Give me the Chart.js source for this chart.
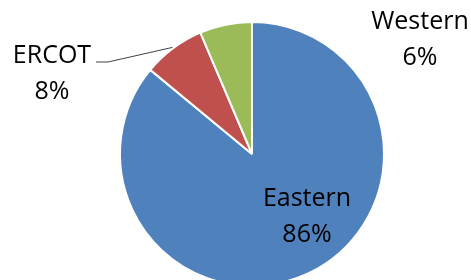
<!DOCTYPE html>
<html>
<head>
<meta charset="utf-8">
<script src="https://cdn.jsdelivr.net/npm/chart.js@4"></script>
<style>
  html, body { margin: 0; padding: 0; background: #fff; overflow: hidden; }
  #wrap { width: 471px; height: 300px; }
</style>
</head>
<body>
<div id="wrap"><canvas id="grafico" width="471" height="300"></canvas></div>
<script>
// ========================
// DADOS
// ========================

const regioes = ["Eastern", "ERCOT", "Western"];
const valores = [86, 7.6, 6.4];
const cores = ["#4F81BD", "#C0504D", "#9BBB59"];

// posição dos rótulos em relação ao centro da pizza (px)
const rotulosPos = [
  { dx: 55, dy: 52 },
  { dx: -200, dy: -91 },
  { dx: 168, dy: -125 },
];

const fonte = "25px 'Open Sans'";

// ========================
// RÓTULOS
// ========================

const rotulosPlugin = {
  id: "rotulos",
  afterDatasetsDraw(chart) {
    const ctx = chart.ctx;
    const arcos = chart.getDatasetMeta(0).data;
    const total = valores.reduce((t, v) => t + v, 0);
    const cx = arcos[0].x;
    const cy = arcos[0].y;

    ctx.save();

    // linha guia do ERCOT
    const ercot = arcos[1];
    const meio = (ercot.startAngle + ercot.endAngle) / 2;
    const r = ercot.outerRadius + 1;
    const px = cx + Math.cos(meio) * r;
    const py = cy + Math.sin(meio) * r;
    const ly = cy + rotulosPos[1].dy - 1;
    ctx.strokeStyle = "#404040";
    ctx.lineWidth = 1;
    ctx.beginPath();
    ctx.moveTo(cx + rotulosPos[1].dx + 44, ly);
    ctx.lineTo(cx + rotulosPos[1].dx + 56, ly);
    ctx.lineTo(px, py);
    ctx.stroke();

    ctx.fillStyle = "#000";
    ctx.font = fonte;
    ctx.textAlign = "center";
    ctx.textBaseline = "alphabetic";

    regioes.forEach((nome, i) => {
      const x = cx + rotulosPos[i].dx;
      const y = cy + rotulosPos[i].dy;
      const pct = Math.round((valores[i] * 100) / total) + "%";
      ctx.fillText(nome, x, y);
      ctx.fillText(pct, x, y + 36);
    });

    ctx.restore();
  },
};

// ========================
// GRÁFICO
// ========================

new Chart(document.getElementById("grafico"), {
  type: "pie",
  data: {
    labels: regioes,
    datasets: [
      {
        data: valores,
        backgroundColor: cores,
        borderColor: "#fff",
        borderWidth: 2,
      },
    ],
  },
  options: {
    responsive: false,
    animation: false,
    layout: { padding: { top: 21, bottom: 13, left: 33, right: 0 } },
    plugins: {
      legend: { display: false },
      tooltip: { enabled: false },
    },
  },
  plugins: [rotulosPlugin],
});
</script>
</body>
</html>
